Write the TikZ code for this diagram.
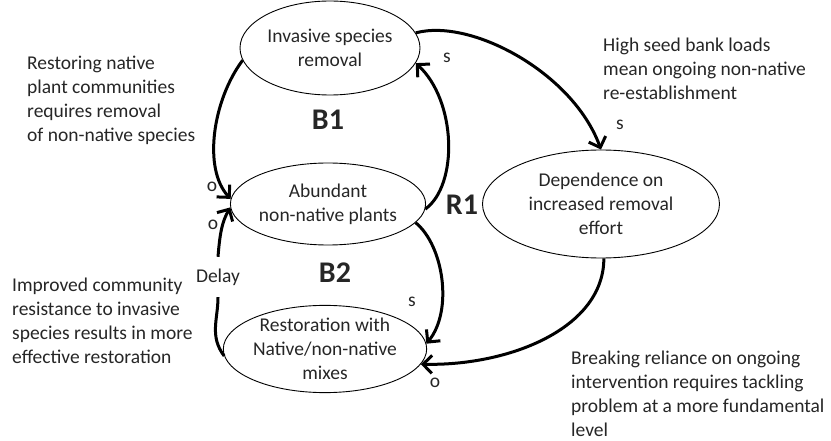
\documentclass[tikz,border=0pt]{standalone}
\usepackage{fontspec}
\setmainfont{Carlito}
\usetikzlibrary{shapes.geometric,arrows.meta}
\begin{document}
\begin{tikzpicture}[x=1pt,y=-1pt,
  every node/.style={font=\fontsize{19.5pt}{24pt}\selectfont, text=black!85},
  ell/.style={draw, ellipse, line width=0.9pt, inner sep=0pt, align=center},
  flow/.style={line width=3pt, -{Straight Barb[length=9pt,width=18pt,line width=3pt]}},
  plainline/.style={line width=3pt},
  txt/.style={align=left, anchor=north west, inner sep=0pt},
  looplabel/.style={font=\fontsize{30pt}{30pt}\selectfont\bfseries, inner sep=0pt},
  pol/.style={inner sep=0pt}
]
\useasboundingbox (0,0) rectangle (831,441);

% ellipses
\node[ell, minimum width=180pt, minimum height=94pt] (inv) at (330,48) {Invasive species\\removal};
\node[ell, minimum width=181pt, minimum height=82pt] (ab) at (328,204) {Abundant\\non-native plants};
\node[ell, minimum width=180pt, minimum height=87pt] (rest) at (325,349) {Restoration with\\Native/non-native\\mixes};
\node[ell, minimum width=237pt, minimum height=108pt] (dep) at (601,204) {Dependence on\\increased removal\\effort};

\node[minimum height=40pt, inner sep=0pt] (delay) at (218,277) {Delay};

% connectors
\draw[flow] (inv.188) .. controls +(-30,40) and +(-28,-30) .. (ab.177);
\draw[flow] (delay.north) .. controls +(2,-25) and +(-8,14) .. (ab.182);
\draw[plainline] (rest.184) .. controls +(-15,-20) and +(0,22) .. (delay.south);
\draw[flow] (ab.-3) .. controls +(33,-24) and +(41,38) .. (inv.-10);
\draw[flow] (inv.10) .. controls +(55,-15) and +(-28,-77) .. (dep.north);
\draw[flow] (ab.-12) .. controls +(28,23) and +(27,-33) .. (rest.3);
\draw[flow] (dep.-87) .. controls +(0,70) and +(88,2) .. (rest.-9);

% polarity labels
\node[pol] (s1) at (447,58) {s};
\node[pol] (s2) at (620,125) {s};
\node[pol] (s3) at (412,302) {s};
\node[pol] (o1) at (212,187) {o};
\node[pol] (o2) at (213,225) {o};
\node[pol] (o3) at (435,383) {o};

% loop labels
\node[looplabel] (b1) at (328,120) {B1};
\node[looplabel] (r1) at (462,205) {R1};
\node[looplabel] (b2) at (335,273) {B2};

% text blocks
\node[txt] (t1) at (27,56) {Restoring native\\plant communities\\requires removal\\of non-native species};
\node[txt] (t2) at (12,278) {Improved community\\resistance to invasive\\species results in more\\effective restoration};
\node[txt] (t3) at (603,38) {High seed bank loads\\mean ongoing non-native\\re-establishment};
\node[txt] (t4) at (571,351) {Breaking reliance on ongoing\\intervention requires tackling\\problem at a more fundamental\\level};
\end{tikzpicture}
\end{document}
